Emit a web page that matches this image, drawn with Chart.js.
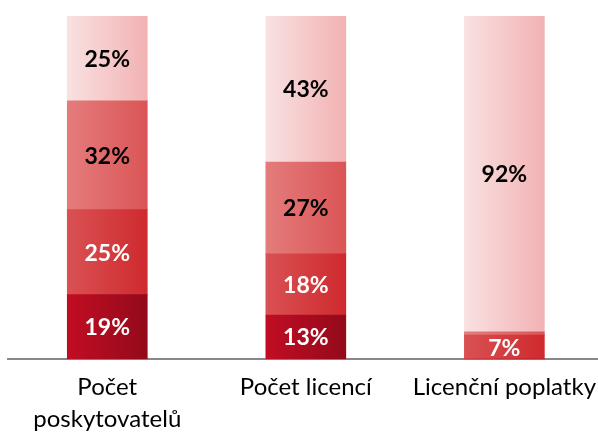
<!DOCTYPE html>
<html>
<head>
<meta charset="utf-8">
<script src="https://cdn.jsdelivr.net/npm/chart.js@4.4.1/dist/chart.umd.min.js"></script>
<style>
  html, body { margin: 0; padding: 0; background: #fff; overflow: hidden; }
  #wrap { width: 608px; height: 434px; }
</style>
</head>
<body>
<div id="wrap"><canvas id="shareChart"></canvas></div>
<script>
// categories (multi-line labels) and series values in %
const categories = [['Počet', 'poskytovatelů'], 'Počet licencí', 'Licenční poplatky'];
const seriesBottom = [19, 13, 0];
const seriesSecond = [25, 18, 7];
const seriesThird = [32, 27, 1];
const seriesTop = [25, 43, 92];

const allSeries = [seriesBottom, seriesSecond, seriesThird, seriesTop];
const totals = categories.map((c, i) => allSeries.reduce((s, arr) => s + arr[i], 0));

// left / right gradient stops per stacked layer
const shades = [
    ['#c10d23', '#930a1b'],
    ['#d95153', '#cf2a2e'],
    ['#e47c7c', '#db5556'],
    ['#f9e1e2', '#f2b2b3']
];
const labelColours = ['#ffffff', '#ffffff', '#000000', '#000000'];
const BAR_W = 80;

function gradientFill(layer) {
    return (ctx) => {
        const chart = ctx.chart;
        const xs = chart.scales.x;
        if (!xs || ctx.dataIndex === undefined) return shades[layer][0];
        const cx = xs.getPixelForValue(ctx.dataIndex);
        if (!isFinite(cx)) return shades[layer][0];
        const g = chart.ctx.createLinearGradient(cx - BAR_W / 2, 0, cx + BAR_W / 2, 0);
        g.addColorStop(0, shades[layer][0]);
        g.addColorStop(1, shades[layer][1]);
        return g;
    };
}

const valueLabels = {
    id: 'valueLabels',
    afterDatasetsDraw(chart) {
        const ctx = chart.ctx;
        ctx.save();
        ctx.font = 'bold 23px Lato, "Open Sans", sans-serif';
        ctx.textAlign = 'center';
        ctx.textBaseline = 'middle';
        chart.data.datasets.forEach((ds, di) => {
            const meta = chart.getDatasetMeta(di);
            meta.data.forEach((bar, i) => {
                const v = allSeries[di][i];
                if (v < 3) return;
                ctx.fillStyle = labelColours[di];
                ctx.fillText(v + '%', bar.x, (bar.y + bar.base) / 2 + 1);
            });
        });
        ctx.restore();
    }
};

new Chart(document.getElementById('shareChart'), {
    type: 'bar',
    data: {
        labels: categories,
        datasets: allSeries.map((arr, di) => ({
            label: 'layer' + di,
            data: arr.map((v, i) => v * 100 / totals[i]),
            backgroundColor: gradientFill(di),
            borderWidth: 0,
            barThickness: BAR_W
        }))
    },
    options: {
        responsive: true,
        maintainAspectRatio: false,
        animation: false,
        events: [],
        layout: { padding: { top: 16, left: 8, right: 0, bottom: -13 } },
        plugins: { legend: { display: false }, tooltip: { enabled: false } },
        scales: {
            x: {
                stacked: true,
                grid: { display: false, drawTicks: false },
                border: { display: true, color: '#888888', width: 2 },
                ticks: {
                    color: '#000000',
                    padding: 12,
                    maxRotation: 0,
                    autoSkip: false,
                    font: { family: 'Lato, "Open Sans", sans-serif', size: 24, lineHeight: 1.33 }
                }
            },
            y: {
                stacked: true,
                display: false,
                min: 0,
                max: 100
            }
        }
    },
    plugins: [valueLabels]
});
</script>
</body>
</html>
